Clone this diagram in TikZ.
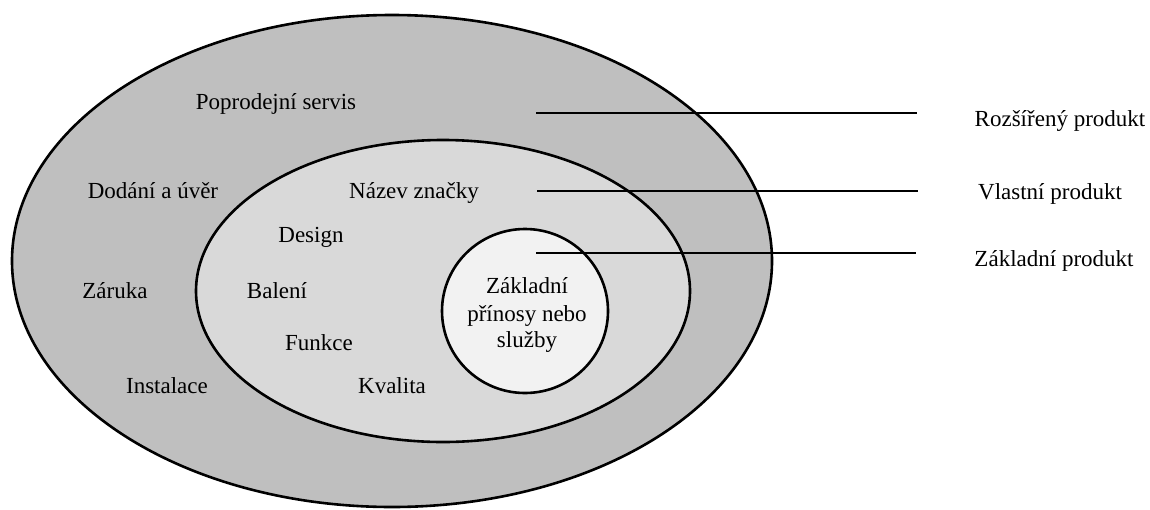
\documentclass[tikz,border=0pt]{standalone}
\usepackage{fontspec}
\setmainfont{Liberation Serif}
\usetikzlibrary{positioning, calc}
\definecolor{outerring}{HTML}{BFBFBF}
\definecolor{innerring}{HTML}{D9D9D9}
\definecolor{corering}{HTML}{F2F2F2}
\begin{document}
\begin{tikzpicture}[x=1pt, y=-1pt,
    ring/.style={draw, line width=2.6pt},
    lbl/.style={font=\fontsize{23}{27}\selectfont, inner sep=0pt, anchor=base},
    lead/.style={line width=1.6pt}
  ]
  \useasboundingbox (0,0) rectangle (1150,509);
  \fill[white] (0,0) rectangle (1150,509);

  % nested rings
  \draw[ring, fill=outerring] (392,261) ellipse [x radius=380, y radius=246];
  \draw[ring, fill=innerring] (443,291) ellipse [x radius=247, y radius=151];
  \draw[ring, fill=corering] (525,311) ellipse [x radius=83, y radius=82];

  % texts in the rings
  \foreach \n/\x/\y/\t in {servis/276/109/Poprodejní servis,
      dodani/153/198/Dodání a úvěr, zaruka/115/298/Záruka,
      instal/167/393/Instalace, nazev/414/198/Název značky,
      design/311/242/Design, baleni/277/298/Balení,
      funkce/319/350/Funkce, kvalita/392/393/Kvalita} {
    \node[lbl] (\n) at (\x,\y) {\t};
  }
  \foreach \n/\y/\t in {core1/293/Základní, core2/321/přínosy nebo,
      core3/347/služby} {
    \node[lbl] (\n) at (527,\y) {\t};
  }

  % level names
  \node[lbl] (rozs) at (1060,126) {Rozšířený produkt};
  \node[lbl] (vlast) at (1050,199) {Vlastní produkt};
  \node[lbl] (zakl) at (1054,266) {Základní produkt};

  \coordinate (s1) at (536,113);
  \coordinate (s2) at (537,191);
  \coordinate (s3) at (536,253);
  \draw[lead, shorten >=58pt] (s1) -- (s1 -| rozs.west);
  \draw[lead, shorten >=60pt] (s2) -- (s2 -| vlast.west);
  \draw[lead, shorten >=58pt] (s3) -- (s3 -| zakl.west);
\end{tikzpicture}
\end{document}
